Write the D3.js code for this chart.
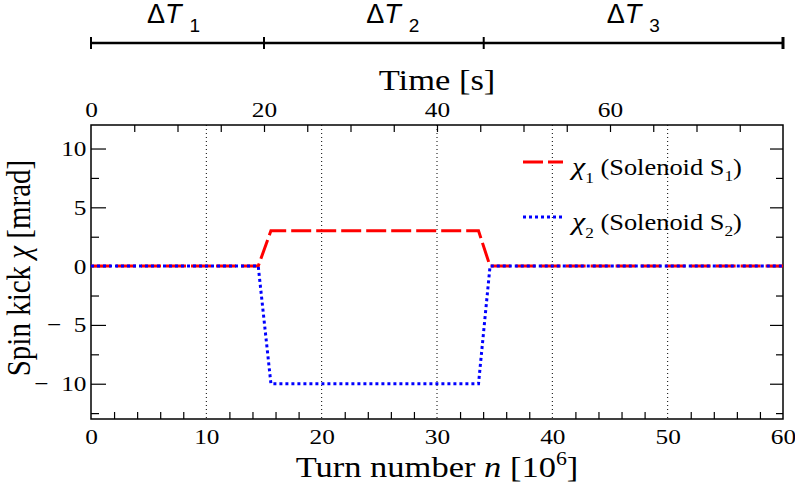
<!DOCTYPE html>
<html>
<head>
  <script src="https://d3js.org/d3.v7.min.js"></script>
  <style>
    body { margin: 0; background: #fff; }
  </style>
</head>
<body>
  <svg id="chart"></svg>
  <script>
    // data
    const turns = [0, 14.5, 15.6, 33.6, 34.6, 60];          // 10^6 turns
    const chi1 = [0, 0, 3, 3, 0, 0];                         // mrad, solenoid S1
    const chi2 = [0, 0, -10, -10, 0, 0];                     // mrad, solenoid S2
    const phaseBounds = [0, 20, 45.4, 80];                   // seconds
    const phaseNames = ["1", "2", "3"];
    const xTicks = [0, 10, 20, 30, 40, 50, 60];
    const yTicks = [-10, -5, 0, 5, 10];
    const timeTicks = [0, 20, 40, 60];

    const W = 795, H = 487;
    const L = 91, R = 783, T = 125, B = 419;
    const SERIF = '"Liberation Serif", "Times New Roman", serif';
    const SANS = '"Liberation Sans", Arial, sans-serif';
    const SX = 1.15;   // the reference text is a bit wide

    const svg = d3.select("#chart").attr("width", W).attr("height", H);

    const x = d3.scaleLinear().domain([0, 60]).range([L, R]);
    const t = d3.scaleLinear().domain([0, 80]).range([L, R]);
    const y = d3.scaleLinear().domain([-13, 12]).range([B, T]);

    const fmtY = d => d < 0 ? "\u2212\u2002" + Math.abs(d) : String(d);

    // grid
    svg.append("g").selectAll("line")
      .data(d3.range(10, 60, 10))
      .join("line")
      .attr("x1", d => x(d)).attr("x2", d => x(d))
      .attr("y1", T).attr("y2", B)
      .attr("stroke", "#000").attr("stroke-width", 1)
      .attr("stroke-dasharray", "1,3");

    function clean(g) {
      g.select(".domain").remove();
      g.selectAll("line").attr("stroke", "#000").attr("stroke-width", 1.2);
      g.selectAll("text")
        .style("font-family", SERIF).style("font-size", "22px").style("fill", "#000")
        .attr("transform", `scale(${SX},1)`);
    }

    // bottom axis
    svg.append("g").attr("transform", `translate(0,${B})`)
      .call(d3.axisBottom(x).tickValues(xTicks).tickSize(0).tickPadding(9))
      .call(clean);
    svg.append("g").attr("transform", `translate(0,${B})`)
      .call(d3.axisBottom(x).tickValues(d3.range(2, 60, 2).filter(d => d % 10)).tickSize(-7).tickFormat(""))
      .call(clean);

    // top axis (time)
    svg.append("g").attr("transform", `translate(0,${T})`)
      .call(d3.axisTop(t).tickValues(timeTicks).tickSize(0).tickPadding(8))
      .call(clean);
    svg.append("g").attr("transform", `translate(0,${T})`)
      .call(d3.axisTop(t).tickValues(d3.range(5, 80, 5)).tickSize(-7).tickFormat(""))
      .call(clean);

    // left axis
    svg.append("g").attr("transform", `translate(${L},0)`)
      .call(d3.axisLeft(y).tickValues(yTicks).tickSize(-15).tickPadding(4).tickFormat(fmtY))
      .call(clean);
    svg.append("g").attr("transform", `translate(${L},0)`)
      .call(d3.axisLeft(y).tickValues([-12.5, -7.5, -2.5, 2.5, 7.5]).tickSize(-8).tickFormat(""))
      .call(clean);

    // right axis
    svg.append("g").attr("transform", `translate(${R},0)`)
      .call(d3.axisRight(y).tickValues(yTicks).tickSize(-13).tickFormat(""))
      .call(clean);
    svg.append("g").attr("transform", `translate(${R},0)`)
      .call(d3.axisRight(y).tickValues([-12.5, -7.5, -2.5, 2.5, 7.5]).tickSize(-7).tickFormat(""))
      .call(clean);

    // frame
    svg.append("rect")
      .attr("x", L).attr("y", T).attr("width", R - L).attr("height", B - T)
      .attr("fill", "none").attr("stroke", "#000").attr("stroke-width", 1.5);

    // curves
    const line = vals => d3.line().x((d, i) => x(turns[i])).y(d => y(d))(vals);
    svg.append("path").attr("d", line(chi1))
      .attr("fill", "none").attr("stroke", "#ff0000").attr("stroke-width", 3)
      .attr("stroke-dasharray", "20,5");
    svg.append("path").attr("d", line(chi2))
      .attr("fill", "none").attr("stroke", "#0000ff").attr("stroke-width", 3)
      .attr("stroke-dasharray", "3,3");

    // text helper: placed at (px, py) and stretched a little in x
    function label(px, py, size, family, anchor) {
      return svg.append("text")
        .attr("transform", `translate(${px},${py}) scale(${SX},1)`)
        .attr("text-anchor", anchor || "start")
        .style("font-family", family || SERIF)
        .style("font-size", size + "px").style("fill", "#000");
    }

    // legend
    const leg = [
      { sub: "1", color: "#ff0000", dash: "20,5", ly: 162 },
      { sub: "2", color: "#0000ff", dash: "3,3", ly: 217 }
    ];
    leg.forEach(l => {
      svg.append("line")
        .attr("x1", 523).attr("x2", 563).attr("y1", l.ly).attr("y2", l.ly)
        .attr("stroke", l.color).attr("stroke-width", 3).attr("stroke-dasharray", l.dash);
      const tx = label(572, l.ly + 13, 23);
      tx.append("tspan").style("font-style", "italic").style("font-size", "26px").text("\u03c7");
      tx.append("tspan").style("font-size", "15px").attr("dy", 8).text(l.sub);
      tx.append("tspan").attr("dy", -8).text(" (Solenoid S");
      tx.append("tspan").style("font-size", "15px").attr("dy", 6).text(l.sub);
      tx.append("tspan").attr("dy", -6).text(")");
    });

    // phase bar
    const barY = 43;
    svg.append("line")
      .attr("x1", t(phaseBounds[0])).attr("x2", t(phaseBounds[phaseBounds.length - 1]))
      .attr("y1", barY).attr("y2", barY)
      .attr("stroke", "#000").attr("stroke-width", 2.5);
    svg.append("g").selectAll("line")
      .data(phaseBounds)
      .join("line")
      .attr("x1", d => t(d)).attr("x2", d => t(d))
      .attr("y1", barY - 6).attr("y2", barY + 6)
      .attr("stroke", "#000").attr("stroke-width", (d, i) => i === phaseBounds.length - 1 ? 3 : 2);

    const labelShift = [-4, 19, 0];
    phaseNames.forEach((n, i) => {
      const cx = (t(phaseBounds[i]) + t(phaseBounds[i + 1])) / 2 + labelShift[i];
      const tx = svg.append("text").attr("x", cx).attr("y", 23)
        .attr("text-anchor", "middle")
        .style("font-family", SANS).style("font-size", "27px").style("fill", "#000");
      tx.append("tspan").text("\u0394");
      tx.append("tspan").style("font-style", "italic").text("T");
      tx.append("tspan").style("font-size", "19px").attr("dx", 8).attr("dy", 9).text(n);
    });

    // axis titles
    label(437, 90, 30, SERIF, "middle").text("Time [s]");

    const xt = label(437, 477, 30, SERIF, "middle");
    xt.append("tspan").text("Turn number ");
    xt.append("tspan").style("font-style", "italic").text("n");
    xt.append("tspan").text(" [10");
    xt.append("tspan").style("font-size", "19px").attr("dy", -12).text("6");
    xt.append("tspan").attr("dy", 12).text("]");

    const yt = svg.append("text")
      .attr("transform", `translate(30,${(T + B) / 2 - 4}) scale(${SX},1) rotate(-90)`)
      .attr("text-anchor", "middle")
      .style("font-family", SERIF).style("font-size", "29px").style("fill", "#000");
    yt.append("tspan").text("Spin kick ");
    yt.append("tspan").style("font-style", "italic").text("\u03c7");
    yt.append("tspan").text(" [mrad]");
  </script>
</body>
</html>
